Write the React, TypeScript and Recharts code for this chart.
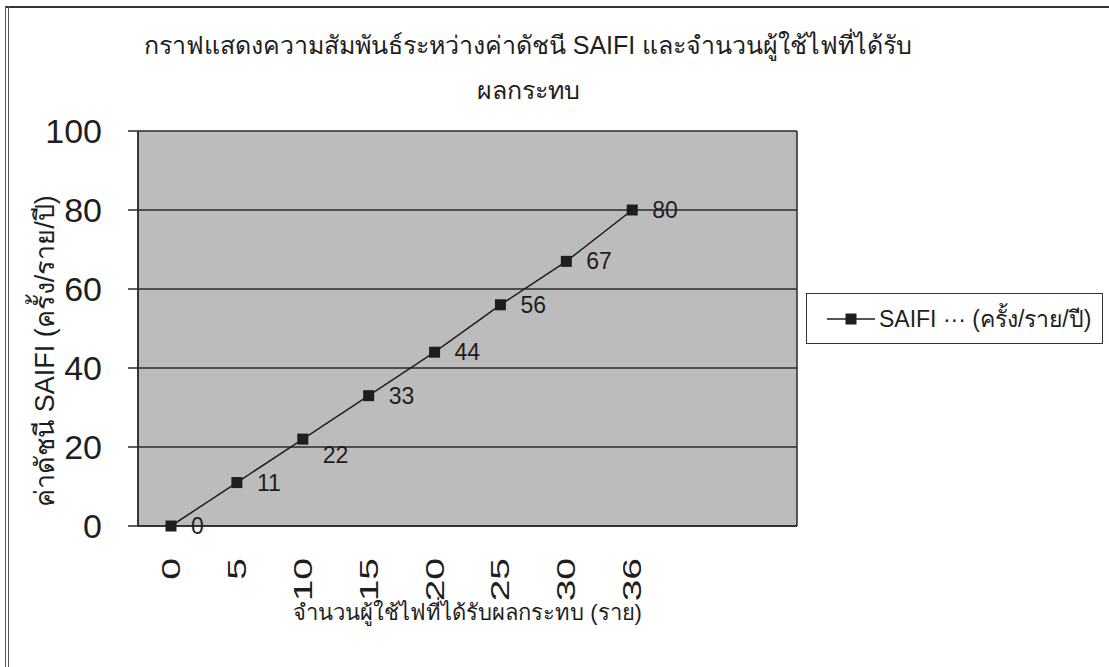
import React from 'react';
import { LineChart, Line, XAxis, YAxis, CartesianGrid, LabelList } from 'recharts';

// จำนวนผู้ใช้ไฟที่ได้รับผลกระทบ (two empty slots keep the Excel plot width)
const categories = ['0', '5', '10', '15', '20', '25', '30', '36', '', ''];
const saifi = [0, 11, 22, 33, 44, 56, 67, 80, null, null];
const yTicks = [0, 20, 40, 60, 80, 100];

const titleLines = ['กราฟแสดงความสัมพันธ์ระหว่างค่าดัชนี SAIFI และจำนวนผู้ใช้ไฟที่ได้รับ', 'ผลกระทบ'];
const xTitle = 'จำนวนผู้ใช้ไฟที่ได้รับผลกระทบ (ราย)';
const yTitle = 'ค่าดัชนี SAIFI (ครั้ง/ราย/ปี)';
const seriesName = 'SAIFI ··· (ครั้ง/ราย/ปี)';

const data = categories.map((name, i) => ({ name, saifi: saifi[i] }));

const FONT = '"Liberation Sans", Arial, sans-serif';
const INK = '#1e1e1e';
const EDGE = { stroke: '#2a2a2a', strokeWidth: 1.5 };

const XTick = (props: any) => {
  const { x, y, payload } = props;
  if (!payload.value) return null;
  return (
    <text
      transform={`translate(${x},${y + 24}) rotate(-90) scale(1.5,1)`}
      textAnchor="end"
      dominantBaseline="central"
      fontSize={26}
      fontFamily={FONT}
      fill={INK}
    >
      {payload.value}
    </text>
  );
};

const SquareDot = (props: any) => {
  const { cx, cy, index } = props;
  if (cx == null || cy == null) return <g key={`d-${index}`} />;
  return <rect key={`d-${index}`} x={cx - 5.5} y={cy - 5.5} width={11} height={11} fill={INK} />;
};

const ValueLabel = (props: any) => {
  const { x, y, value, index } = props;
  if (value == null) return null;
  // Excel pushed the "22" label below the point
  const dy = index === 2 ? 16 : 0;
  return (
    <text x={x + 20} y={y + dy} dominantBaseline="central" fontSize={23} fontFamily={FONT} fill={INK}>
      {value}
    </text>
  );
};

const App: React.FC = () => {
  return (
    <div style={{ position: 'fixed', left: 0, top: 0, width: 1109, height: 667, background: '#fff', overflow: 'hidden' }}>
      {/* กรอบแผนภูมิ */}
      <div style={{ position: 'absolute', left: 5, top: 6, width: 1104, height: 2, background: '#333' }} />
      <div style={{ position: 'absolute', left: 5, top: 6, width: 1, height: 661, background: '#555' }} />
      <div style={{ position: 'absolute', left: 8, top: 6, width: 1, height: 661, background: '#555' }} />

      {/* ชื่อกราฟ */}
      <div
        style={{
          position: 'absolute',
          left: 0,
          width: 1056,
          top: 23,
          textAlign: 'center',
          fontFamily: FONT,
          fontSize: 25,
          lineHeight: '45px',
          color: INK,
        }}
      >
        {titleLines.map((t) => (
          <div key={t}>{t}</div>
        ))}
      </div>

      <div style={{ position: 'absolute', left: 0, top: 0 }}>
        <LineChart width={1109} height={667} data={data} margin={{ top: 131, right: 312, bottom: 0, left: 0 }}>
          <CartesianGrid
            fill="#bcbcbc"
            fillOpacity={1}
            stroke="#2a2a2a"
            strokeWidth={1.5}
            verticalCoordinatesGenerator={({ offset }: any) => [offset.left, offset.left + offset.width]}
          />
          <XAxis
            dataKey="name"
            height={141}
            interval={0}
            padding={{ left: 33, right: 33 }}
            tickLine={false}
            axisLine={EDGE}
            tick={<XTick />}
            label={{
              content: (p: any) => (
                <text
                  x={p.viewBox.x + p.viewBox.width / 2}
                  y={612}
                  textAnchor="middle"
                  dominantBaseline="central"
                  fontSize={22}
                  fontFamily={FONT}
                  fill={INK}
                >
                  {xTitle}
                </text>
              ),
            }}
          />
          <YAxis
            width={138}
            domain={[0, 100]}
            ticks={yTicks}
            interval={0}
            tickSize={10}
            tickMargin={26}
            tickLine={EDGE}
            axisLine={EDGE}
            tick={{ fontSize: 34, fontFamily: FONT, fill: INK }}
            label={{
              content: () => (
                <text
                  transform="translate(45,351) rotate(-90)"
                  textAnchor="middle"
                  dominantBaseline="central"
                  fontSize={27}
                  fontFamily={FONT}
                  fill={INK}
                >
                  {yTitle}
                </text>
              ),
            }}
          />
          <Line
            type="linear"
            dataKey="saifi"
            name={seriesName}
            stroke={INK}
            strokeWidth={1.5}
            dot={<SquareDot />}
            activeDot={false}
            connectNulls={false}
            isAnimationActive={false}
          >
            <LabelList dataKey="saifi" content={<ValueLabel />} />
          </Line>
        </LineChart>
      </div>

      {/* คำอธิบายสัญลักษณ์ */}
      <div
        style={{
          position: 'absolute',
          left: 806,
          top: 293,
          width: 297,
          height: 51,
          boxSizing: 'border-box',
          border: '1.5px solid #333',
          display: 'flex',
          alignItems: 'center',
          paddingLeft: 20,
          fontFamily: FONT,
          fontSize: 23,
          color: INK,
          background: '#fff',
          whiteSpace: 'nowrap',
        }}
      >
        <svg width={50} height={20} style={{ marginRight: 2, flexShrink: 0 }}>
          <line x1={0} y1={10} x2={48} y2={10} stroke={INK} strokeWidth={1.5} />
          <rect x={18.5} y={4.5} width={11} height={11} fill={INK} />
        </svg>
        <span>{seriesName}</span>
      </div>
    </div>
  );
};

export default App;
